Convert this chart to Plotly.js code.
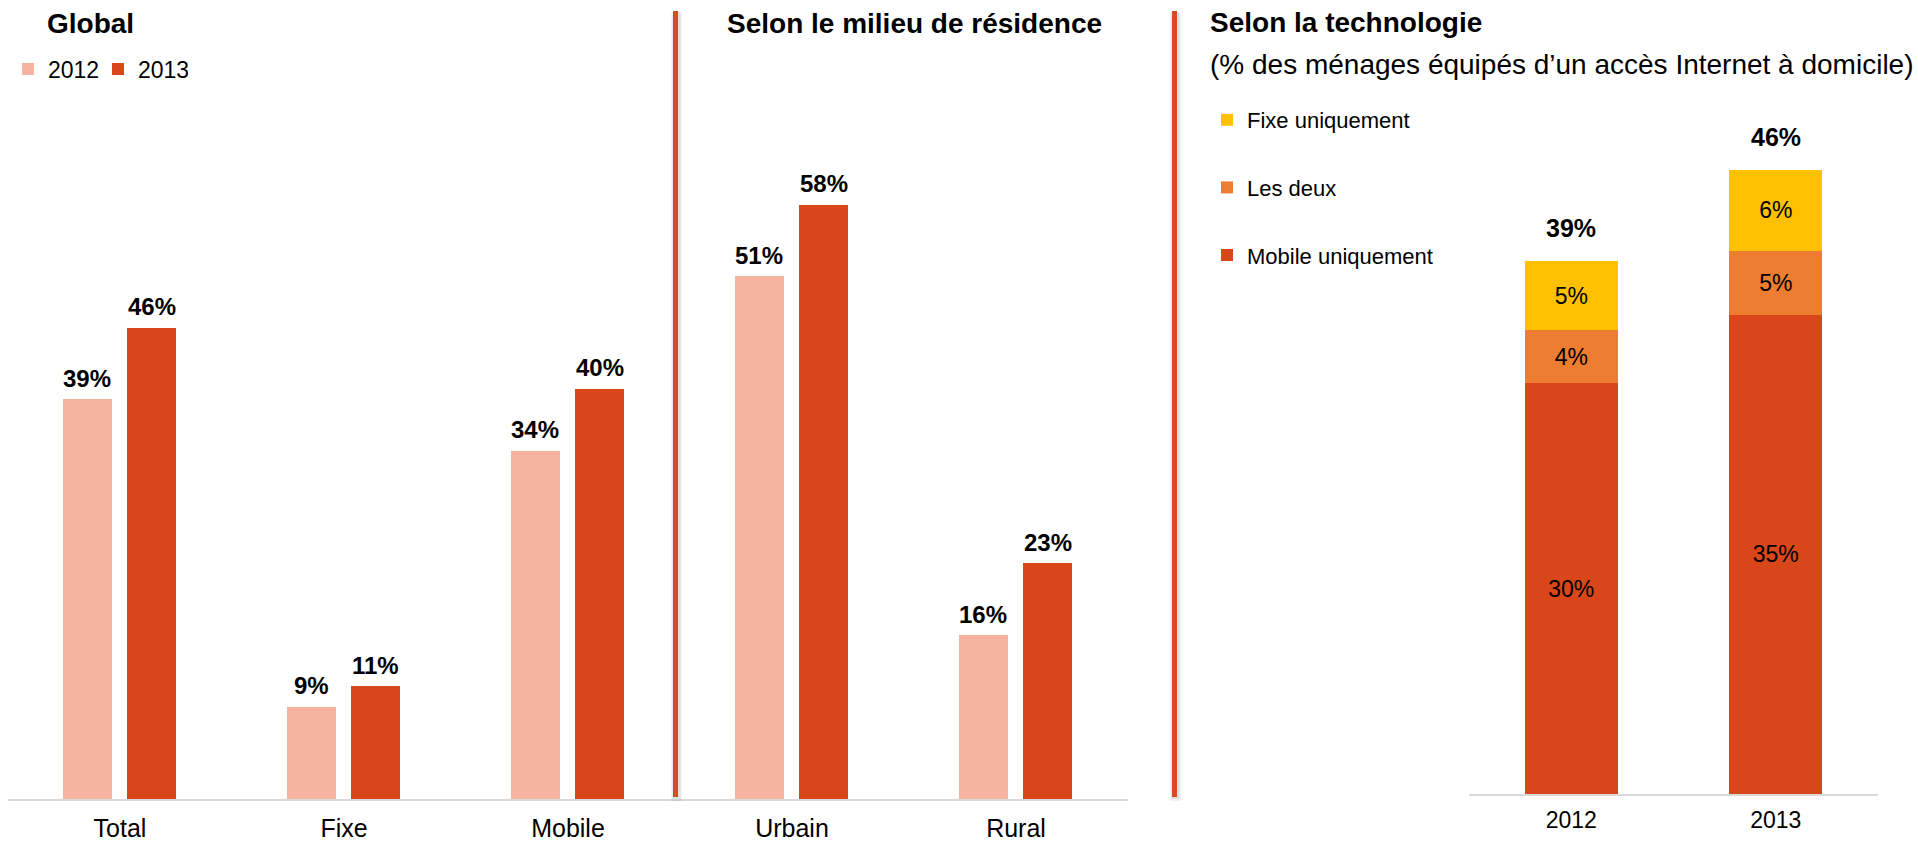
<!DOCTYPE html>
<html>
<head>
<meta charset="utf-8">
<script src="https://cdn.plot.ly/plotly-3.0.1.min.js"></script>
<style>html,body{margin:0;padding:0;background:#fff;}#chart{width:1918px;height:842px;}</style>
</head>
<body>
<div id="chart"></div>
<script>
// ---- data ----
const categories = ['Total', 'Fixe', 'Mobile', 'Urbain', 'Rural'];
const values2012 = [39, 9, 34, 51, 16];
const values2013 = [46, 11, 40, 58, 23];
const techYears = ['2012', '2013'];
const mobileOnly = [30, 35];
const bothTech = [3.9, 4.7];
const fixedOnly = [5, 5.9];
const techTotals = [39, 46];

const titleGlobal = 'Global';
const titleMilieu = 'Selon le milieu de résidence';
const titleTech = 'Selon la technologie';
const subtitleTech = '(% des ménages équipés d’un accès Internet à domicile)';

// ---- styles ----
const W = 1918, H = 842;
const FONT = 'Liberation Sans, Arial, Helvetica, sans-serif';
const C2012 = '#F5B3A0', C2013 = '#D9461A';
const CMOB = '#D9461A', CBOTH = '#ED7D31', CFIX = '#FFC000';
const px = v => v / W;
const py = v => 1 - v / H;
const CAT_PX = 1120 / 5;           // pixel width of one left category
const OFF12 = -0.2545, OFF13 = 0.03125, BW = 0.21875;

const traces = [
  {type: 'bar', name: '2012', x: categories, y: values2012, xaxis: 'x', yaxis: 'y',
   offset: OFF12, width: BW, marker: {color: C2012}, legend: 'legend', hoverinfo: 'skip'},
  {type: 'bar', name: '2013', x: categories, y: values2013, xaxis: 'x3', yaxis: 'y',
   offset: OFF13, width: BW, marker: {color: C2013}, legend: 'legend', hoverinfo: 'skip'},
  {type: 'bar', name: 'Mobile uniquement', x: techYears, y: mobileOnly, xaxis: 'x2', yaxis: 'y2',
   width: 0.455, marker: {color: CMOB}, texttemplate: '%{y:.0f}%', textposition: 'inside',
   insidetextanchor: 'middle', constraintext: 'none',
   insidetextfont: {size: 23, color: '#000', family: FONT}, legend: 'legend2', legendgroup: 'c', legendrank: 3, hoverinfo: 'skip'},
  {type: 'bar', name: 'Les deux', x: techYears, y: bothTech, xaxis: 'x2', yaxis: 'y2',
   width: 0.455, marker: {color: CBOTH}, texttemplate: '%{y:.0f}%', textposition: 'inside',
   insidetextanchor: 'middle', constraintext: 'none',
   insidetextfont: {size: 23, color: '#000', family: FONT}, legend: 'legend2', legendgroup: 'b', legendrank: 2, hoverinfo: 'skip'},
  {type: 'bar', name: 'Fixe uniquement', x: techYears, y: fixedOnly, xaxis: 'x2', yaxis: 'y2',
   width: 0.455, marker: {color: CFIX}, texttemplate: '%{y:.0f}%', textposition: 'inside',
   insidetextanchor: 'middle', constraintext: 'none',
   insidetextfont: {size: 23, color: '#000', family: FONT}, legend: 'legend2', legendgroup: 'a', legendrank: 1, hoverinfo: 'skip'}
];

const annotations = [
  {text: '<b>' + titleGlobal + '</b>', x: px(45), y: py(24), xref: 'paper', yref: 'paper', xanchor: 'left', yanchor: 'middle', showarrow: false, font: {size: 28, color: '#000', family: FONT}},
  {text: '<b>' + titleMilieu + '</b>', x: px(725), y: py(24), xref: 'paper', yref: 'paper', xanchor: 'left', yanchor: 'middle', showarrow: false, font: {size: 28, color: '#000', family: FONT}},
  {text: '<b>' + titleTech + '</b>', x: px(1208), y: py(23), xref: 'paper', yref: 'paper', xanchor: 'left', yanchor: 'middle', showarrow: false, font: {size: 28, color: '#000', family: FONT}},
  {text: subtitleTech, x: px(1208), y: py(64), xref: 'paper', yref: 'paper', xanchor: 'left', yanchor: 'middle', showarrow: false, font: {size: 28, color: '#000', family: FONT}}
];
// value labels above the left bars
categories.forEach((c, i) => {
  annotations.push({text: '<b>' + values2012[i] + '%</b>', x: i, y: values2012[i], xref: 'x', yref: 'y',
    xshift: (OFF12 + BW / 2) * CAT_PX, yshift: 21, xanchor: 'center', yanchor: 'middle', showarrow: false,
    font: {size: 24, color: '#000', family: FONT}});
  annotations.push({text: '<b>' + values2013[i] + '%</b>', x: i, y: values2013[i], xref: 'x', yref: 'y',
    xshift: (OFF13 + BW / 2) * CAT_PX, yshift: 21, xanchor: 'center', yanchor: 'middle', showarrow: false,
    font: {size: 24, color: '#000', family: FONT}});
});
// totals above the stacked bars
techYears.forEach((yr, i) => {
  annotations.push({text: '<b>' + techTotals[i] + '%</b>', x: i, y: mobileOnly[i] + bothTech[i] + fixedOnly[i],
    xref: 'x2', yref: 'y2', yshift: 33, xanchor: 'center', yanchor: 'middle', showarrow: false,
    font: {size: 25, color: '#000', family: FONT}});
});

function sep(xc) {
  return [
    {type: 'line', xref: 'paper', yref: 'paper', x0: px(xc + 1), x1: px(xc + 1), y0: py(13), y1: py(801), line: {color: 'rgba(0,0,0,0.05)', width: 11}, layer: 'above'},
    {type: 'line', xref: 'paper', yref: 'paper', x0: px(xc + 1), x1: px(xc + 1), y0: py(12), y1: py(799), line: {color: 'rgba(0,0,0,0.08)', width: 8}, layer: 'above'},
    {type: 'line', xref: 'paper', yref: 'paper', x0: px(xc), x1: px(xc), y0: py(11), y1: py(797), line: {color: '#DA4A1E', width: 5}, layer: 'above'}
  ];
}
const shapes = [].concat(sep(675.5), sep(1174.5));

const layout = {
  width: W, height: H, margin: {l: 0, r: 0, t: 0, b: 0},
  paper_bgcolor: '#fff', plot_bgcolor: 'rgba(0,0,0,0)',
  font: {family: FONT, color: '#000'},
  barmode: 'stack', showlegend: true, hovermode: false,
  xaxis: {domain: [px(8), px(1128)], type: 'category', range: [-0.5, 4.5], showline: true, linecolor: '#D9D9D9', linewidth: 2,
          ticks: '', ticklabelstandoff: 6, showgrid: false, zeroline: false, tickfont: {size: 25, color: '#000', family: FONT}, fixedrange: true},
  xaxis3: {overlaying: 'x', matches: 'x', type: 'category', visible: false},
  yaxis: {domain: [1 - 799 / H, py(100)], range: [0, 699 / 10.25], visible: false, fixedrange: true},
  xaxis2: {domain: [px(1469), px(1878)], anchor: 'y2', type: 'category', range: [-0.5, 1.5], showline: true, linecolor: '#D9D9D9', linewidth: 2,
           ticks: '', ticklabelstandoff: 4, showgrid: false, zeroline: false, tickfont: {size: 23, color: '#000', family: FONT}, fixedrange: true},
  yaxis2: {domain: [1 - 794 / H, py(100)], anchor: 'x2', range: [0, 694 / 13.69], visible: false, fixedrange: true},
  legend: {orientation: 'h', x: px(8), y: py(69), xanchor: 'left', yanchor: 'middle', font: {size: 23, color: '#000', family: FONT},
           entrywidth: 45, entrywidthmode: 'pixels', bgcolor: 'rgba(0,0,0,0)', traceorder: 'normal'},
  legend2: {orientation: 'v', x: px(1207), y: py(187.5), xanchor: 'left', yanchor: 'middle', font: {size: 22, color: '#000', family: FONT},
            bgcolor: 'rgba(0,0,0,0)', traceorder: 'grouped', tracegroupgap: 36},
  annotations: annotations,
  shapes: shapes
};

Plotly.newPlot('chart', traces, layout, {staticPlot: true, displayModeBar: false});
</script>
</body>
</html>
